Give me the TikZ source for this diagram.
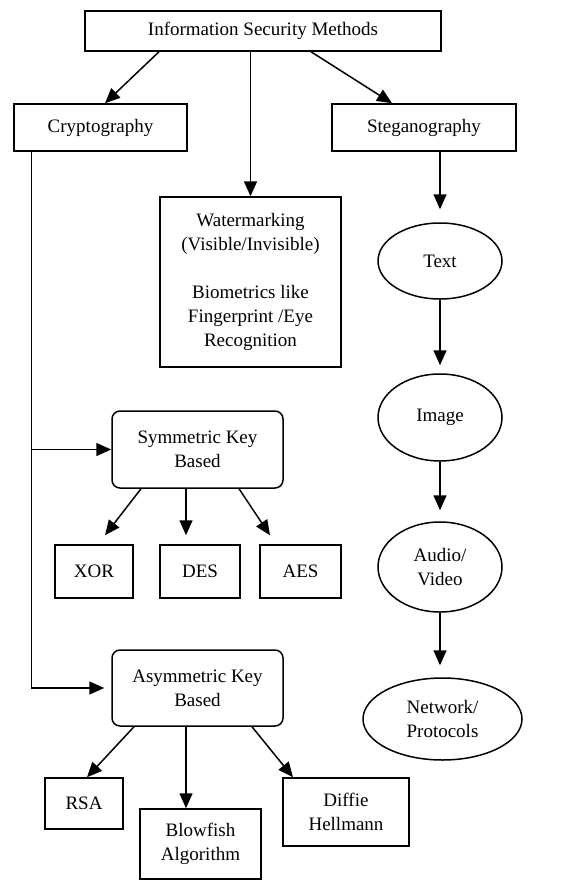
\documentclass[tikz,border=0pt]{standalone}
\usepackage{fontspec}
\setmainfont{Liberation Serif}
\usetikzlibrary{arrows.meta,shapes.geometric}

\begin{document}
\begin{tikzpicture}[x=1pt, y=-1pt, ->, line width=1.5pt, >={Triangle[length=15pt,width=13pt]},
    box/.style={draw, rectangle, inner sep=0pt, align=center, font=\fontsize{19}{24}\selectfont},
    keybox/.style={box, rounded corners=8pt},
    oval/.style={draw, ellipse, inner sep=0pt, align=center, font=\fontsize{19}{24}\selectfont}]
    \useasboundingbox (0,0) rectangle (588,881);
    %nodes
    \node[box, minimum width=356pt, minimum height=40pt] at (263,31) (methods) {Information Security Methods};
    \node[box, minimum width=173pt, minimum height=47pt] at (100.5,127.5) (crypto) {Cryptography};
    \node[box, minimum width=184pt, minimum height=47pt] at (424,127.5) (stego) {Steganography};
    \node[box, minimum width=181pt, minimum height=170pt] at (250.5,282) (water) {Watermarking\\(Visible/Invisible)\\[24pt]Biometrics like\\Fingerprint /Eye\\Recognition};
    %steganography media
    \node[oval, minimum width=124pt, minimum height=76pt] at (440,261) (text) {Text};
    \node[oval, minimum width=124pt, minimum height=87pt] at (440,417.5) (image) {Image};
    \node[oval, minimum width=124pt, minimum height=90pt] at (440,567) (audio) {Audio/\\Video};
    \node[oval, minimum width=159pt, minimum height=82pt] at (442.5,719) (network) {Network/\\Protocols};
    %key based
    \node[keybox, minimum width=171pt, minimum height=77pt] at (197.5,449.5) (sym) {Symmetric Key\\Based};
    \node[box, minimum width=78pt, minimum height=53pt] at (94,571.5) (xor) {XOR};
    \node[box, minimum width=80pt, minimum height=53pt] at (200,571.5) (des) {DES};
    \node[box, minimum width=81pt, minimum height=53pt] at (300.5,571.5) (aes) {AES};
    \node[keybox, minimum width=171pt, minimum height=76pt] at (197.5,688) (asym) {Asymmetric Key\\Based};
    \node[box, minimum width=78pt, minimum height=51pt] at (84,803.5) (rsa) {RSA};
    \node[box, minimum width=121pt, minimum height=70pt] at (200.5,844) (blowfish) {Blowfish\\Algorithm};
    \node[box, minimum width=126pt, minimum height=68pt] at (346,812) (diffie) {Diffie\\Hellmann};
    \coordinate (trunk) at ([xshift=18pt]crypto.south west);
    \path
        ([xshift=-104pt]methods.south) edge ([xshift=4.5pt]crypto.north)
        (methods.south -| water.north) edge (water.north)
        ([xshift=48pt]methods.south) edge ([xshift=-32pt]stego.north)
        (text.north |- stego.south) edge[shorten >=13pt] (text.north)
        (text.south) edge[shorten >=8pt] (image.north)
        (image.south) edge[shorten >=11pt] (audio.north)
        (audio.south) edge[shorten >=12pt] (audio.south |- network.north)
        (trunk |- sym.west) edge (sym.west)
        ([xshift=-56.5pt]sym.south) edge ([xshift=11pt,yshift=9pt]xor.north)
        ([xshift=-11.5pt]sym.south) edge ([xshift=-14pt,yshift=9pt]des.north)
        ([xshift=41.5pt]sym.south) edge ([xshift=-30.5pt,yshift=9pt]aes.north)
        ([xshift=-63.5pt]asym.south) edge ([xshift=3pt]rsa.north)
        ([xshift=-11.5pt]asym.south) edge ([xshift=-14.5pt]blowfish.north)
        ([xshift=54.5pt]asym.south) edge ([xshift=-53pt]diffie.north);
    \draw[shorten >=7pt] (trunk) |- (asym.west);
\end{tikzpicture}
\end{document}
